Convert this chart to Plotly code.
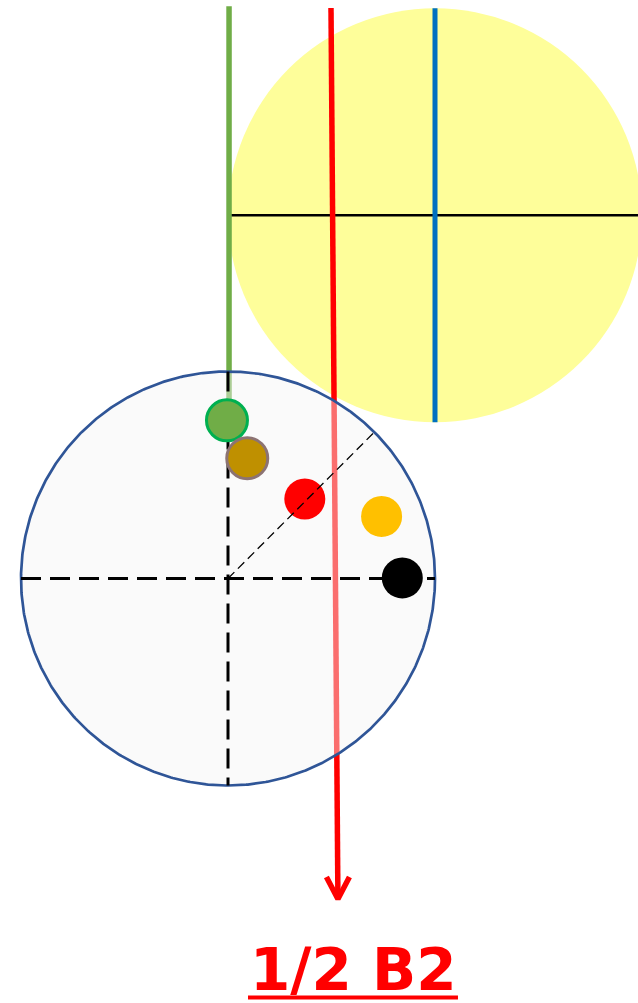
import numpy as np
import plotly.graph_objects as go

# ---- diagram data (units: radius of the grey circle = 1, origin at its centre) ----
grey_circle = {"cx": 0.0, "cy": 0.0, "r": 1.0}
yellow_circle = {"cx": 1.0, "cy": 1.755, "r": 1.0}

green_line_x = [0.005, 0.005]
green_line_y = [2.765, 0.765]
blue_line_x = [1.0, 1.0]
blue_line_y = [2.755, 0.755]
black_line_x = [0.0, 2.0]
black_line_y = [1.755, 1.755]
red_line_x = [0.4976, 0.531]
red_line_y = [2.756, -1.548]

dash_h_x = [-1.0, 1.0]
dash_h_y = [0.0, 0.0]
dash_v_x = [0.0, 0.0]
dash_v_y = [1.0, -1.0]
dash_d_x = [0.0, 0.7071]
dash_d_y = [0.0, 0.7071]

dot_names = ["green", "brown", "red", "orange", "black"]
dot_x = [-0.005, 0.093, 0.371, 0.742, 0.842]
dot_y = [0.764, 0.581, 0.384, 0.300, 0.003]
dot_fill = ["#70AD47", "#BF9000", "#FF0000", "#FFC000", "#000000"]
dot_edge = ["#00B050", "#8C7373", "#FF0000", "#FFC000", "#000000"]
dot_edge_w = [3, 3, 0, 0, 0]

label_text = "1/2 B2"
label_x = 0.604
label_y = -1.893
underline_x = [0.0966, 1.111]
underline_y = [-2.024, -2.024]

# ---- layout geometry ----
W, H = 638, 1003
S = 207.0                 # pixels per unit
ORIGIN = (228.0, 578.5)   # pixel position of the origin
x_range = [-ORIGIN[0] / S, (W - ORIGIN[0]) / S]
y_range = [-(H - ORIGIN[1]) / S, ORIGIN[1] / S]

fig = go.Figure()

def seg(x, y, color, width, dash="solid"):
    fig.add_trace(go.Scatter(x=x, y=y, mode="lines",
                             line=dict(color=color, width=width, dash=dash),
                             hoverinfo="skip"))

# yellow circle (bottom layer)
fig.add_shape(type="circle", xref="x", yref="y",
              x0=yellow_circle["cx"] - yellow_circle["r"], x1=yellow_circle["cx"] + yellow_circle["r"],
              y0=yellow_circle["cy"] - yellow_circle["r"], y1=yellow_circle["cy"] + yellow_circle["r"],
              fillcolor="#FEFE9A", line=dict(width=0), layer="below")

seg(black_line_x, black_line_y, "#000000", 2.5)
seg(green_line_x, green_line_y, "#70AD47", 5.5)
seg(blue_line_x, blue_line_y, "#0070C0", 5)
seg(red_line_x, red_line_y, "#FF0000", 5.5)

# arrow head at the end of the red line
tip_x, tip_y = red_line_x[-1], red_line_y[-1]
wing_dx, wing_dy = 11.5 / S, 22.0 / S
fig.add_trace(go.Scatter(x=[tip_x - wing_dx, tip_x, tip_x + wing_dx],
                         y=[tip_y + wing_dy, tip_y, tip_y + wing_dy],
                         mode="lines", line=dict(color="#FF0000", width=5.5),
                         hoverinfo="skip"))

# grey semi-transparent circle above the lines
t = np.linspace(0, 2 * np.pi, 721)
fig.add_trace(go.Scatter(x=grey_circle["cx"] + grey_circle["r"] * np.cos(t),
                         y=grey_circle["cy"] + grey_circle["r"] * np.sin(t),
                         mode="lines", fill="toself",
                         fillcolor="rgba(244,244,244,0.45)",
                         line=dict(color="#2F5597", width=2.7),
                         hoverinfo="skip"))

seg(dash_h_x, dash_h_y, "#000000", 3, "20px,9px")
seg(dash_v_x, dash_v_y, "#000000", 3, "20px,9px")

for i, name in enumerate(dot_names):
    fig.add_trace(go.Scatter(x=[dot_x[i]], y=[dot_y[i]], mode="markers", name=name,
                             marker=dict(size=41, color=dot_fill[i],
                                         line=dict(color=dot_edge[i], width=dot_edge_w[i])),
                             hoverinfo="skip"))

# diagonal dashed line drawn over the dots
seg(dash_d_x, dash_d_y, "#000000", 1.3, "9px,5px")

# label with thick underline
seg(underline_x, underline_y, "#FF0000", 4)
fig.add_annotation(x=label_x, y=label_y, xref="x", yref="y", text="<b>" + label_text + "</b>",
                   showarrow=False, xanchor="center", yanchor="middle",
                   font=dict(family="DejaVu Sans", size=58, color="#FF0000"))

fig.update_xaxes(range=x_range, visible=False, fixedrange=True)
fig.update_yaxes(range=y_range, visible=False, fixedrange=True)
fig.update_layout(width=W, height=H, margin=dict(l=0, r=0, t=0, b=0),
                  plot_bgcolor="white", paper_bgcolor="white", showlegend=False)

fig.write_html("out.html", config={"displayModeBar": False},
               post_script="document.body.style.margin='0';document.body.style.overflow='hidden';")
